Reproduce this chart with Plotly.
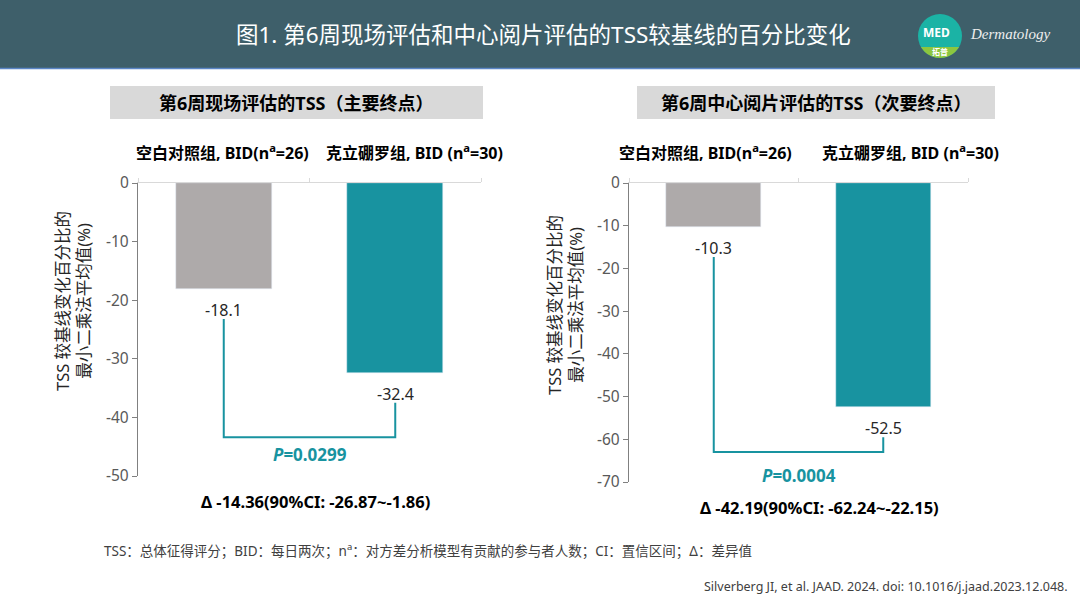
import plotly.graph_objects as go
import numpy as np

# ---- data ----
categories = ["空白对照组", "克立硼罗组"]
cat_labels = ["空白对照组, BID(n<sup>a</sup>=26)", "克立硼罗组, BID (n<sup>a</sup>=30)"]
panel_titles = ["第6周现场评估的TSS（主要终点）", "第6周中心阅片评估的TSS（次要终点）"]
site_values = [-18.1, -32.4]        # 现场评估
central_values = [-10.3, -52.5]     # 中心阅片评估
y_mins = [-50, -70]
p_values = ["0.0299", "0.0004"]
delta_texts = ["Δ -14.36(90%CI: -26.87~-1.86)", "Δ -42.19(90%CI: -62.24~-22.15)"]
bracket_levels = [-43.4, -63.0]

main_title = "图1. 第6周现场评估和中心阅片评估的TSS较基线的百分比变化"
y_title = "TSS 较基线变化百分比的<br>最小二乘法平均值(%)"
footnote = "TSS：总体征得评分；BID：每日两次；n<sup>a</sup>：对方差分析模型有贡献的参与者人数；CI：置信区间；Δ：差异值"
citation = "Silverberg JI, et al. JAAD. 2024. doi: 10.1016/j.jaad.2023.12.048."

W, H = 1080, 608
FONT = "Noto Sans, Noto Sans CJK SC"
TEAL = "#1893a0"
GRAY = "#aeaaaa"


def fx(p):
    return p / W


def fy(p):
    return 1 - p / H


def paper_text(x, y, text, size, color, xanchor="center", family=None, angle=0):
    f = dict(size=size, color=color)
    if family:
        f["family"] = family
    return dict(x=fx(x), y=fy(y), xref="paper", yref="paper", xanchor=xanchor, yanchor="middle",
                showarrow=False, text=text, font=f, textangle=angle)


# panel layout in pixels
panels = [
    dict(values=site_values, xd=(138, 481), yd=(183, 476), box=(110, 483),
         lab_shift=(-1, 19), p_shift=-4, delta_x=315, delta_y=501, title_x=73, title_y=301),
    dict(values=central_values, xd=(629, 968), yd=(183, 482), box=(637, 995),
         lab_shift=(-8, 27), p_shift=-10, delta_x=819, delta_y=507, title_x=565, title_y=305),
]

fig = go.Figure()
annotations = []
shapes = []

for i, pn in enumerate(panels):
    n = "" if i == 0 else str(i + 1)
    xa, ya = "x" + n, "y" + n
    vals = pn["values"]
    yr = [y_mins[i], 0]

    fig.add_trace(go.Bar(x=categories, y=vals, marker_color=[GRAY, TEAL], width=0.56,
                         xaxis=xa, yaxis=ya, hoverinfo="skip"))

    # bracket under the bars
    unit = (yr[1] - yr[0]) / (pn["yd"][1] - pn["yd"][0])
    gap = 30 * unit
    fig.add_trace(go.Scatter(x=[categories[0], categories[0], categories[1], categories[1]],
                             y=[vals[0] - gap, bracket_levels[i], bracket_levels[i], vals[1] - gap],
                             mode="lines", line=dict(color=TEAL, width=2),
                             xaxis=xa, yaxis=ya, hoverinfo="skip"))

    ticks = list(range(y_mins[i], 1, 10))
    fig.layout["xaxis" + n] = dict(
        domain=[fx(pn["xd"][0]), fx(pn["xd"][1])], anchor=ya, type="category",
        side="top", range=[-0.5, 1.5], showline=True, linecolor="#d9d9d9",
        ticks="outside", tickson="boundaries", ticklen=4, tickcolor="#d9d9d9",
        showticklabels=False, showgrid=False, zeroline=False, automargin=False)
    fig.layout["yaxis" + n] = dict(
        domain=[fy(pn["yd"][1]), fy(pn["yd"][0])], anchor=xa, range=yr,
        tickvals=ticks, ticktext=[str(t) for t in ticks],
        showline=True, linecolor="#808080", linewidth=1.3,
        ticks="outside", ticklen=5, tickcolor="#808080",
        tickfont=dict(size=15.5, color="#595959"), showgrid=False, zeroline=False,
        automargin=False)

    # y axis title (two lines, rotated)
    annotations.append(paper_text(pn["title_x"], pn["title_y"], y_title, 16.5, "#262626", angle=-90))

    # category headers and value labels
    for j, c in enumerate(categories):
        annotations.append(dict(x=c, y=0, xref=xa, yref=ya, xanchor="center", yanchor="bottom",
                                yshift=17, xshift=pn["lab_shift"][j],
                                text="<b>" + cat_labels[j] + "</b>",
                                showarrow=False, font=dict(size=16, color="#000000")))
        annotations.append(dict(x=c, y=vals[j], xref=xa, yref=ya, xanchor="center", yanchor="top",
                                yshift=-8, text=str(vals[j]), showarrow=False,
                                font=dict(size=16, color="#262626")))

    annotations.append(dict(x=0.5, y=bracket_levels[i], xref=xa, yref=ya, xanchor="center",
                            yanchor="top", yshift=pn["p_shift"], showarrow=False,
                            text="<b><i>P</i>=" + p_values[i] + "</b>",
                            font=dict(size=17, color=TEAL)))
    annotations.append(paper_text(pn["delta_x"], pn["delta_y"], "<b>" + delta_texts[i] + "</b>",
                                  16.5, "#000000"))

    # grey title box
    shapes.append(dict(type="rect", xref="paper", yref="paper", x0=fx(pn["box"][0]), x1=fx(pn["box"][1]),
                       y0=fy(119), y1=fy(86), fillcolor="#d9d9d9", line_width=0, layer="below"))
    annotations.append(paper_text(sum(pn["box"]) / 2, 103, "<b>" + panel_titles[i] + "</b>",
                                  18, "#000000"))

# header band
shapes.append(dict(type="rect", xref="paper", yref="paper", x0=0, x1=1, y0=fy(68), y1=1,
                   fillcolor="#3e5f6a", line_width=0, layer="below"))
shapes.append(dict(type="line", xref="paper", yref="paper", x0=0, x1=1, y0=fy(68.5), y1=fy(68.5),
                   line=dict(color="#5b86c6", width=1.5)))
annotations.append(paper_text(543, 34, main_title, 22.5, "#ffffff"))

# logo
cx, cy, r = 940, 36, 22
shapes.append(dict(type="circle", xref="paper", yref="paper", x0=fx(cx - r), x1=fx(cx + r),
                   y0=fy(cy + r), y1=fy(cy - r), fillcolor="#1bb3a5", line_width=0))
a0 = np.arcsin(11 / r)
ang = np.linspace(a0, np.pi - a0, 30)
pts = [(cx + r * np.cos(a), cy + r * np.sin(a)) for a in ang]
path = "M " + " L ".join(f"{fx(px):.5f},{fy(py):.5f}" for px, py in pts) + " Z"
shapes.append(dict(type="path", xref="paper", yref="paper", path=path, fillcolor="#8cc63f", line_width=0))
annotations.append(paper_text(936, 33, "<b>MED</b>", 12, "#ffffff"))
annotations.append(paper_text(940, 52, "<b>拓普</b>", 8, "#ffffff"))
annotations.append(paper_text(968, 34, "<i>Dermatology</i>", 15, "#eeeeee",
                              xanchor="left", family="Liberation Serif"))

# footnotes
annotations.append(paper_text(102, 550, footnote, 13.5, "#404040", xanchor="left"))
annotations.append(paper_text(1070, 586, citation, 12.5, "#404040", xanchor="right"))

fig.update_layout(width=W, height=H, margin=dict(l=0, r=0, t=0, b=0, autoexpand=False),
                  paper_bgcolor="#ffffff", plot_bgcolor="#ffffff", showlegend=False,
                  font=dict(family=FONT), annotations=annotations, shapes=shapes, bargap=0)

fig.write_html("out.html", config={"displayModeBar": False},
               post_script="document.body.style.margin='0px';")
